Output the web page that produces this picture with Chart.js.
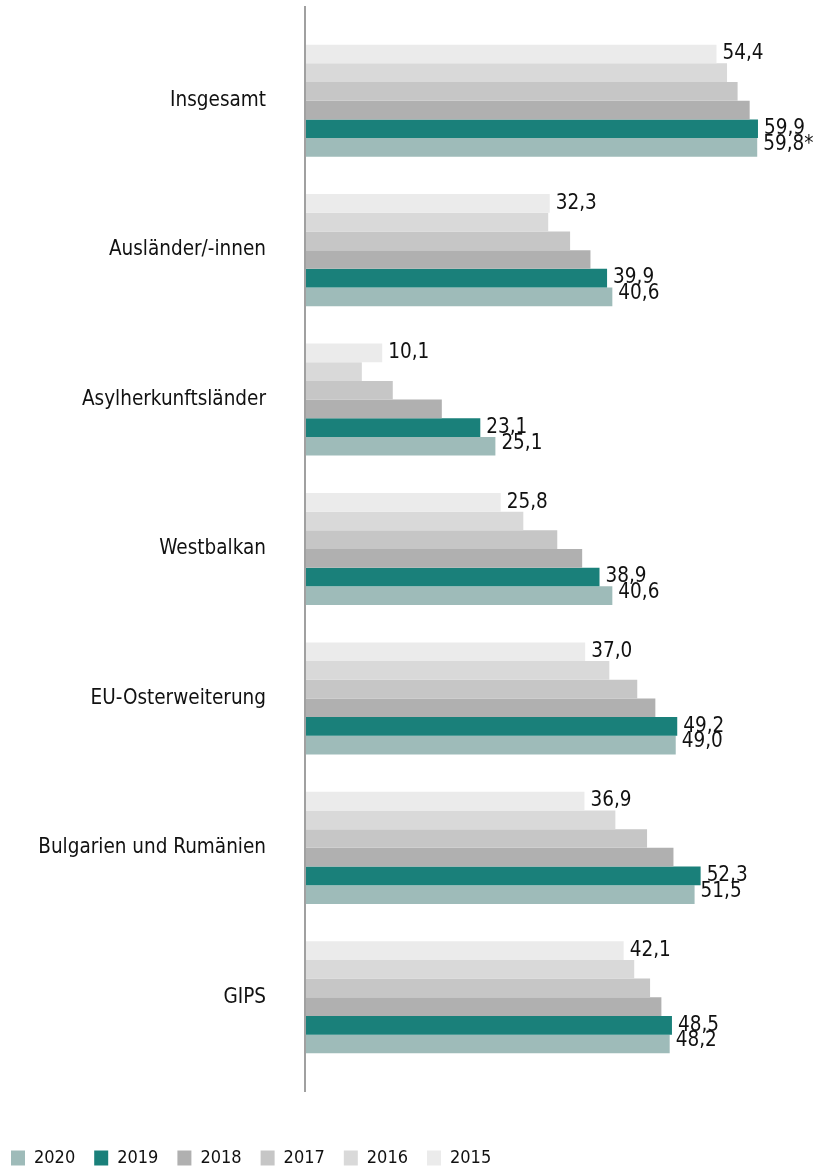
<!DOCTYPE html>
<html>
<head>
<meta charset="utf-8">
<script src="https://cdn.jsdelivr.net/npm/chart.js@4/dist/chart.umd.min.js"></script>
<style>
  body { margin: 0; background: #fff; }
  #wrap { width: 816px; height: 1171px; position: relative; }
</style>
</head>
<body>
<div id="wrap"><canvas id="quote-chart"></canvas></div>
<script>
// Kategorien und Werte
const categories = ['Insgesamt', 'Ausländer/-innen', 'Asylherkunftsländer', 'Westbalkan',
  'EU-Osterweiterung', 'Bulgarien und Rumänien', 'GIPS'];
const years = ['2015', '2016', '2017', '2018', '2019', '2020'];
const v2015 = [54.4, 32.3, 10.1, 25.8, 37.0, 36.9, 42.1];
const v2016 = [55.8, 32.1, 7.4, 28.8, 40.2, 41.0, 43.5];
const v2017 = [57.2, 35.0, 11.5, 33.3, 43.9, 45.2, 45.6];
const v2018 = [58.8, 37.7, 18.0, 36.6, 46.3, 48.7, 47.1];
const v2019 = [59.9, 39.9, 23.1, 38.9, 49.2, 52.3, 48.5];
const v2020 = [59.8, 40.6, 25.1, 40.6, 49.0, 51.5, 48.2];
const notes2020 = ['*', '', '', '', '', '', ''];

const FONT = '"DejaVu Sans Condensed", "DejaVu Sans", sans-serif';

// Werte-Labels (nur 2015, 2019, 2020)
var valueLabels = {
  id: 'valueLabels',
  afterDatasetsDraw(chart) {
    const ctx = chart.ctx;
    ctx.save();
    ctx.font = '20.5px ' + FONT;
    ctx.fillStyle = '#111';
    ctx.textBaseline = 'middle';
    ctx.textAlign = 'left';
    chart.data.datasets.forEach((ds, i) => {
      if (!ds.showValues) return;
      const meta = chart.getDatasetMeta(i);
      meta.data.forEach((bar, j) => {
        let txt = ds.data[j].toFixed(1).replace('.', ',');
        if (ds.notes) txt += ds.notes[j];
        ctx.fillText(txt, bar.x + 6, bar.y + (ds.labelShift || 0));
      });
    });
    ctx.restore();
  }
};

// senkrechte Achsenlinie
var axisLine = {
  id: 'axisLine',
  beforeDatasetsDraw(chart) {
    const ctx = chart.ctx;
    const x = chart.scales.x.getPixelForValue(0) - 1;
    ctx.save();
    ctx.strokeStyle = '#a0a0a0';
    ctx.lineWidth = 2;
    ctx.beginPath();
    ctx.moveTo(x, chart.chartArea.top - 20);
    ctx.lineTo(x, chart.chartArea.bottom + 20);
    ctx.stroke();
    ctx.restore();
  }
};

var quoteCanvas = document.getElementById('quote-chart');
var quoteChart = new Chart(quoteCanvas, {
  type: 'bar',
  data: {
    labels: categories,
    datasets: [
      { label: years[0], data: v2015, backgroundColor: '#ebebeb', showValues: true },
      { label: years[1], data: v2016, backgroundColor: '#d9d9d9' },
      { label: years[2], data: v2017, backgroundColor: '#c6c6c6' },
      { label: years[3], data: v2018, backgroundColor: '#b0b0b0' },
      { label: years[4], data: v2019, backgroundColor: '#1a807a', showValues: true },
      { label: years[5], data: v2020, backgroundColor: '#9ebbb9', showValues: true, notes: notes2020, labelShift: -3 }
    ]
  },
  options: {
    indexAxis: 'y',
    responsive: true,
    maintainAspectRatio: false,
    animation: false,
    layout: { padding: { top: 26, right: 12, left: -8, bottom: -6 } },
    datasets: { bar: { categoryPercentage: 0.75, barPercentage: 1.0 } },
    scales: {
      x: {
        min: 0, max: 66,
        grid: { display: false, drawTicks: false },
        border: { display: false },
        ticks: { display: false },
        afterFit(scale) { scale.height = 58; }
      },
      y: {
        grid: { display: false, drawTicks: false },
        border: { display: false },
        ticks: { padding: 40, color: '#111', font: { family: FONT, size: 20.5 } },
        afterFit(scale) {
          scale.width = 314;
          scale.paddingTop = 0;
          scale.paddingBottom = 0;
        }
      }
    },
    plugins: {
      legend: {
        position: 'bottom',
        align: 'start',
        reverse: true,
        labels: {
          boxWidth: 14,
          boxHeight: 15,
          padding: 19,
          color: '#111',
          font: { family: FONT, size: 18 }
        }
      },
      tooltip: { enabled: false }
    }
  },
  plugins: [axisLine, valueLabels]
});
</script>
</body>
</html>
